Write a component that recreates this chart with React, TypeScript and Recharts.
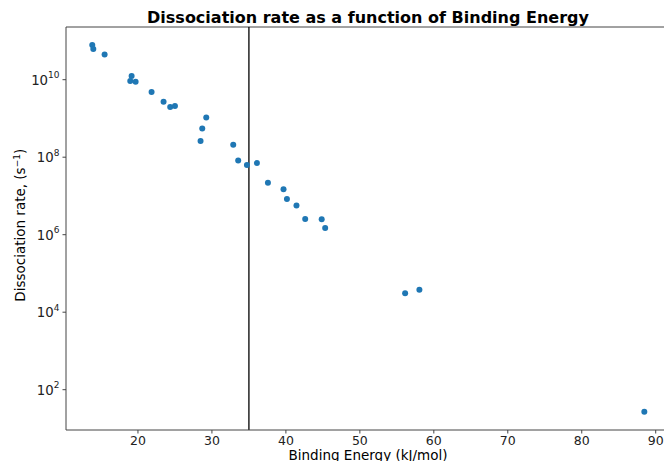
import React from "react";
import { ScatterChart, Scatter, XAxis, YAxis, ReferenceLine } from "recharts";

const bindingEnergy: number[] = [
  13.82, 13.96, 15.49, 19.14, 18.96, 19.68, 21.84, 23.46, 24.36, 25.0,
  29.23, 28.69, 28.46, 32.88, 33.55, 34.73, 36.08, 37.57, 39.68, 40.14,
  41.43, 42.61, 44.84, 45.31, 56.12, 58.05, 88.46,
];
const dissociationRate: number[] = [
  7.9e10, 6.2e10, 4.5e10, 1.25e10, 9.3e9, 8.9e9, 4.8e9, 2.7e9, 1.97e9, 2.1e9,
  1.06e9, 5.5e8, 2.6e8, 2.1e8, 8.2e7, 6.3e7, 7.05e7, 2.2e7, 1.5e7, 8.3e6,
  5.65e6, 2.56e6, 2.52e6, 1.5e6, 3.09e4, 3.8e4, 27,
];
const xTicks: number[] = [20, 30, 40, 50, 60, 70, 80, 90];
const yTicks: number[] = [1e2, 1e4, 1e6, 1e8, 1e10];
const thresholdEnergy = 35;
const xDomain: [number, number] = [10.27, 91.12];
const yDomain: [number, number] = [Math.pow(10, 0.96), Math.pow(10, 11.36)];

const data = bindingEnergy.map((x, i) => ({ x, y: dissociationRate[i] }));

const FONT = "'DejaVu Sans', sans-serif";

const YTick = (props: any) => {
  const { x, y, payload } = props;
  const exp = Math.round(Math.log10(payload.value));
  return (
    <text x={x - 1} y={y + 5} textAnchor="end" fontFamily={FONT} fontSize={13.3} fill="#222">
      10
      <tspan dy={-6.5} fontSize={9}>{exp}</tspan>
    </text>
  );
};

const XTick = (props: any) => {
  const { x, y, payload } = props;
  return (
    <text x={x} y={y + 9.5} textAnchor="middle" fontFamily={FONT} fontSize={12.5} fill="#222">
      {payload.value}
    </text>
  );
};

export default function App() {
  return (
    <div style={{ position: "absolute", left: 0, top: 0, width: 664, height: 461, overflow: "hidden", background: "#fff" }}>
      <ScatterChart width={664} height={461} margin={{ top: 27, right: 0, bottom: 0, left: 0 }}>
        <XAxis
          type="number"
          dataKey="x"
          domain={xDomain}
          ticks={xTicks}
          allowDataOverflow
          height={31}
          tickSize={3.5}
          axisLine={{ stroke: "#444", strokeWidth: 1 }}
          tickLine={{ stroke: "#444" }}
          tick={<XTick />}
        />
        <YAxis
          type="number"
          dataKey="y"
          scale="log"
          domain={yDomain}
          ticks={yTicks}
          allowDataOverflow
          width={66}
          tickSize={3.5}
          axisLine={{ stroke: "#444", strokeWidth: 1 }}
          tickLine={{ stroke: "#444" }}
          tick={<YTick />}
        />
        <ReferenceLine y={yDomain[1]} stroke="#444" strokeWidth={1} ifOverflow="extendDomain" />
        <ReferenceLine x={thresholdEnergy} stroke="#000" strokeWidth={1.3} />
        <Scatter data={data} fill="#1f77b4" isAnimationActive={false} shape={(p: any) => <circle cx={p.cx} cy={p.cy} r={3} fill="#1f77b4" />} />
      </ScatterChart>
      <div style={{ position: "absolute", left: 118, top: 8, width: 500, textAlign: "center", fontFamily: FONT, fontWeight: "bold", fontSize: 16, color: "#000", whiteSpace: "nowrap" }}>
        Dissociation rate as a function of Binding Energy
      </div>
      <div style={{ position: "absolute", left: 218, top: 449, width: 300, lineHeight: "13px", textAlign: "center", fontFamily: FONT, fontSize: 13.5, color: "#000", whiteSpace: "nowrap" }}>
        Binding Energy (kJ/mol)
      </div>
      <div style={{ position: "absolute", left: 20, top: 227, width: 0, height: 0 }}>
        <div style={{ position: "absolute", left: -150, top: -10, width: 300, textAlign: "center", transform: "rotate(-90deg)", fontFamily: FONT, fontSize: 13.5, color: "#000", whiteSpace: "nowrap" }}>
          Dissociation rate, (s<sup style={{ fontSize: 9 }}>−1</sup>)
        </div>
      </div>
    </div>
  );
}
